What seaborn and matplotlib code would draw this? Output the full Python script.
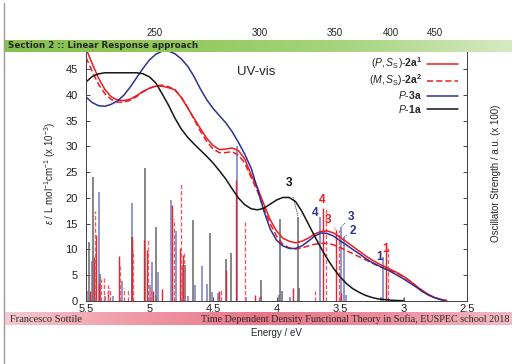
import numpy as np
import pandas as pd
import matplotlib
matplotlib.use("Agg")
import matplotlib.pyplot as plt
from matplotlib.colors import LinearSegmentedColormap
from matplotlib.lines import Line2D
from matplotlib.ticker import FuncFormatter
import seaborn as sns

# -------------------------------
# Absorption curves (energy in eV, epsilon x 10^-3)
# -------------------------------
e_2a1 = [5.50, 5.45, 5.40, 5.35, 5.30, 5.25, 5.20, 5.15, 5.10, 5.05, 5.00, 4.95, 4.90, 4.85,
         4.80, 4.75, 4.70, 4.65, 4.60, 4.55, 4.50, 4.45, 4.40, 4.35, 4.30, 4.25, 4.20, 4.15,
         4.10, 4.05, 4.00, 3.95, 3.90, 3.85, 3.80, 3.75, 3.70, 3.65, 3.60, 3.55, 3.50, 3.45,
         3.40, 3.35, 3.30, 3.25, 3.20, 3.15, 3.10, 3.05, 3.00, 2.95, 2.90, 2.85, 2.80, 2.75,
         2.70, 2.66]
eps_2a1 = [49.0, 46.0, 43.2, 41.0, 39.6, 39.0, 38.9, 39.2, 39.9, 40.7, 41.3, 41.7, 41.7, 41.4,
           41.0, 39.5, 37.5, 35.5, 33.5, 31.6, 30.2, 29.4, 29.5, 29.7, 29.2, 27.6, 24.5, 22.0,
           18.8, 15.8, 13.6, 12.2, 11.6, 11.3, 11.6, 12.2, 13.0, 13.5, 13.6, 13.2, 12.4, 11.5,
           10.6, 9.7, 8.8, 8.0, 7.3, 6.7, 6.1, 5.5, 4.8, 3.9, 2.9, 2.0, 1.2, 0.6,
           0.25, 0.1]

e_2a2 = e_2a1
eps_2a2 = [47.3, 44.5, 42.0, 40.2, 39.1, 38.6, 38.6, 39.0, 39.7, 40.6, 41.3, 41.8, 41.9, 41.6,
           41.0, 39.6, 37.6, 35.3, 33.0, 31.0, 29.5, 28.8, 28.8, 29.0, 28.3, 26.8, 24.0, 21.3,
           18.0, 15.0, 12.6, 11.0, 10.3, 10.1, 10.3, 10.7, 11.0, 11.2, 11.2, 10.9, 10.4, 9.8,
           9.2, 8.6, 8.0, 7.4, 6.8, 6.3, 5.9, 5.4, 4.7, 3.9, 2.9, 2.0, 1.2, 0.6,
           0.25, 0.1]

e_3a = [5.50, 5.45, 5.40, 5.35, 5.30, 5.25, 5.20, 5.15, 5.10, 5.05, 5.00, 4.95, 4.90, 4.85,
        4.80, 4.75, 4.70, 4.65, 4.60, 4.55, 4.50, 4.45, 4.40, 4.35, 4.30, 4.25, 4.20, 4.15,
        4.10, 4.05, 4.00, 3.95, 3.90, 3.85, 3.80, 3.75, 3.70, 3.65, 3.60, 3.55, 3.50, 3.45,
        3.40, 3.35, 3.30, 3.25, 3.20, 3.15, 3.10, 3.05, 3.00, 2.95, 2.90, 2.85, 2.80, 2.75,
        2.70, 2.68]
eps_3a = [39.6, 38.5, 37.9, 37.8, 38.2, 38.9, 40.0, 41.6, 43.4, 45.2, 46.8, 47.9, 48.5, 48.5,
          48.0, 47.0, 45.6, 43.6, 41.2, 39.1, 37.4, 36.0, 34.6, 32.9, 30.8, 28.5, 25.8, 21.8,
          17.5, 14.0, 11.8, 10.7, 10.2, 10.2, 10.7, 11.6, 12.6, 13.2, 13.1, 12.6, 11.7, 10.9,
          10.0, 9.2, 8.3, 7.5, 6.9, 6.3, 5.7, 5.0, 4.3, 3.5, 2.7, 1.8, 1.1, 0.6,
          0.25, 0.1]

e_1a = [5.50, 5.45, 5.40, 5.35, 5.30, 5.25, 5.20, 5.15, 5.10, 5.05, 5.00, 4.95, 4.90, 4.85,
        4.80, 4.75, 4.70, 4.65, 4.60, 4.55, 4.50, 4.45, 4.40, 4.35, 4.30, 4.25, 4.20, 4.15,
        4.10, 4.05, 4.00, 3.95, 3.90, 3.85, 3.80, 3.75, 3.70, 3.65, 3.60, 3.55, 3.50, 3.45,
        3.40, 3.35, 3.30, 3.25, 3.20, 3.10, 3.00]
eps_1a = [42.5, 43.6, 44.1, 44.3, 44.3, 44.3, 44.3, 44.3, 44.3, 44.1, 43.5, 42.3, 40.2, 38.0,
          35.5, 33.4, 31.8, 30.5, 29.3, 28.1, 26.8, 25.3, 23.7, 21.8, 20.0, 18.7, 17.9, 17.7,
          18.0, 18.8, 19.6, 20.1, 20.1, 19.3, 17.4, 15.0, 12.6, 10.3, 8.2, 6.3, 4.7, 3.4,
          2.4, 1.7, 1.1, 0.7, 0.4, 0.15, 0.05]

# -------------------------------
# Oscillator strength sticks (energy, height on the same scale)
# -------------------------------
stick_e_2a1 = [5.47, 5.44, 5.42, 5.40, 5.33, 5.24, 5.14, 5.04, 5.02, 4.97, 4.90, 4.82, 4.76,
               4.74, 4.45, 4.40, 4.32, 4.17, 3.87, 3.63, 3.53, 3.49, 3.14]
stick_h_2a1 = [2.0, 8.6, 12.8, 3.5, 2.2, 8.7, 12.5, 11.8, 9.9, 2.0, 2.4, 18.6, 10.2,
               9.0, 2.0, 6.0, 23.5, 1.2, 2.5, 18.0, 13.8, 1.5, 10.0]

stick_e_2a2 = [5.43, 5.38, 5.36, 5.33, 5.31, 5.23, 5.20, 5.17, 5.13, 5.01, 4.99, 4.81, 4.75,
               4.73, 4.44, 4.25, 4.14, 3.70, 3.61, 3.51, 3.12]
stick_h_2a2 = [17.4, 4.2, 4.4, 3.1, 2.5, 6.7, 2.5, 2.2, 9.9, 11.8, 2.5, 16.0, 23.0,
               9.3, 2.2, 15.4, 1.0, 2.0, 18.0, 13.8, 10.3]

stick_e_3a = [5.49, 5.45, 5.40, 5.35, 5.29, 5.22, 5.14, 5.00, 4.98, 4.95, 4.93, 4.83, 4.79,
              4.70, 4.64, 4.59, 4.55, 4.51, 4.46, 4.31, 4.24, 4.12, 3.98, 3.89, 3.66, 3.49,
              3.47, 3.45, 3.18, 3.16]
stick_h_3a = [2.0, 7.8, 21.2, 1.0, 1.0, 3.8, 19.0, 3.1, 7.6, 1.0, 5.7, 19.7, 13.5,
              1.0, 3.1, 6.8, 3.3, 1.8, 1.5, 30.0, 0.8, 0.9, 1.2, 0.8, 16.3, 14.4,
              12.4, 1.2, 0.8, 8.5]

stick_e_1a = [5.48, 5.445, 5.39, 5.14, 5.035, 4.95, 4.74, 4.72, 4.66, 4.52, 4.40, 4.36,
              4.12, 3.975, 3.96, 3.83, 3.82, 3.00]
stick_h_1a = [11.4, 24.0, 5.2, 12.5, 25.8, 14.4, 6.9, 6.9, 15.7, 13.2, 8.1, 9.3,
              4.0, 15.9, 2.0, 16.4, 2.5, 0.5]

# labelled transitions: (text, colour key, stick energy, stick height, label energy, label height, leader)
stick_labels = [
    ("3", "1a", 3.83, 16.4, 3.90, 23.0, True),
    ("4", "3a", 3.66, 16.3, 3.695, 17.1, False),
    ("4", "2a1", 3.63, 18.0, 3.64, 19.6, False),
    ("3", "2a1", 3.53, 13.8, 3.595, 15.7, True),
    ("3", "3a", 3.49, 14.4, 3.41, 16.3, True),
    ("2", "3a", 3.47, 12.4, 3.40, 13.6, True),
    ("1", "3a", 3.16, 8.5, 3.19, 8.6, False),
    ("1", "2a1", 3.14, 10.0, 3.145, 10.0, False),
]

x_ticks = [5.5, 5.0, 4.5, 4.0, 3.5, 3.0, 2.5]
y_ticks = [0, 5, 10, 15, 20, 25, 30, 35, 40, 45]
nm_ticks = [250, 300, 350, 400, 450]

colors = {"2a1": "#ec1c24", "2a2": "#ec1c24", "3a": "#2e3192", "1a": "#151515"}
labels = {
    "2a1": r"$(\mathit{P},\mathit{S}_{\mathrm{S}})$-$\mathbf{2a^{1}}$",
    "2a2": r"$(\mathit{M},\mathit{S}_{\mathrm{S}})$-$\mathbf{2a^{2}}$",
    "3a": r"$\mathit{P}$-$\mathbf{3a}$",
    "1a": r"$\mathit{P}$-$\mathbf{1a}$",
}

# -------------------------------
# Style
# -------------------------------
sns.set_style("ticks")
plt.rcParams["font.family"] = ["Liberation Sans", "DejaVu Sans"]
plt.rcParams["mathtext.fontset"] = "custom"
plt.rcParams["mathtext.rm"] = "Liberation Sans"
plt.rcParams["mathtext.it"] = "Liberation Sans:italic"
plt.rcParams["mathtext.bf"] = "Liberation Sans:bold"

W, H = 512, 364
fig = plt.figure(figsize=(W / 100, H / 100), dpi=100)
fig.patch.set_facecolor("white")

ax = fig.add_axes([86 / W, 1 - 301 / H, 381 / W, 255 / H])

# sticks
ax.vlines(stick_e_3a, 0, stick_h_3a, colors="#8184c8", linewidth=1.2, zorder=1)
ax.vlines(stick_e_1a, 0, stick_h_1a, colors="#666666", linewidth=1.1, zorder=1)
ax.vlines(stick_e_2a1, 0, stick_h_2a1, colors="#e8222c", linewidth=1.0, zorder=1)
ax.vlines(stick_e_2a2, 0, stick_h_2a2, colors="#f2596b", linewidth=1.0,
          linestyles=(0, (3, 1.5)), zorder=1)

# curves
curves = pd.concat([
    pd.DataFrame({"E": e_2a1, "eps": eps_2a1, "mol": "2a1"}),
    pd.DataFrame({"E": e_2a2, "eps": eps_2a2, "mol": "2a2"}),
    pd.DataFrame({"E": e_3a, "eps": eps_3a, "mol": "3a"}),
    pd.DataFrame({"E": e_1a, "eps": eps_1a, "mol": "1a"}),
])
for mol in ["2a1", "2a2", "3a", "1a"]:
    d = curves[curves["mol"] == mol]
    sns.lineplot(data=d, x="E", y="eps", ax=ax, color=colors[mol], linewidth=1.1,
                 label=labels[mol], sort=False, zorder=3,
                 linestyle="-" if mol != "2a2" else (0, (4, 2)))

# stick labels
for txt, key, se, sh, le, lh, leader in stick_labels:
    c = {"1a": "#151515", "3a": "#2e3192", "2a1": "#ec1c24"}[key]
    if leader:
        ax.annotate(txt, xy=(se, sh), xytext=(le, lh), color=c, fontsize=8.5,
                    fontweight="bold", ha="center", va="center", zorder=5,
                    arrowprops=dict(arrowstyle="-", color=c, lw=0.5, ls=":",
                                    shrinkA=4, shrinkB=0))
    else:
        ax.text(le, lh, txt, color=c, fontsize=8.5, fontweight="bold",
                ha="center", va="center", zorder=5)

ax.text(4.16, 44.5, "UV-vis", fontsize=9.5, ha="center", va="center")

ax.set_xlim(5.5, 2.5)
ax.set_ylim(0, 49.5)
ax.set_xticks(x_ticks)
ax.xaxis.set_major_formatter(FuncFormatter(lambda v, p: "%g" % v))
ax.set_yticks(y_ticks)
ax.tick_params(direction="in", length=3, width=0.6, labelsize=8, colors="#222222")
ax.tick_params(axis="x", pad=2)
ax.tick_params(axis="y", pad=6)
ax.set_xlabel("Energy / eV", fontsize=7, labelpad=10)
ax.set_ylabel(r"$\varepsilon$ / L mol$^{-1}$cm$^{-1}$ (x 10$^{-3}$)", fontsize=7, labelpad=5)
for s in ax.spines.values():
    s.set_linewidth(0.7)
    s.set_color("#444444")

leg = ax.legend(loc="upper right", markerfirst=False, frameon=False, fontsize=7.5,
                handlelength=2.9, labelspacing=0.12, borderaxespad=0.5, handletextpad=0.5)
for t in leg.get_texts():
    t.set_ha("right")

axr = ax.twinx()
axr.set_ylim(ax.get_ylim())
axr.set_yticks(y_ticks)
axr.set_yticklabels([])
axr.tick_params(direction="in", length=3, width=0.6)
axr.set_ylabel("Oscillator Strength / a.u. (x 100)", fontsize=7, labelpad=14)
for s in axr.spines.values():
    s.set_linewidth(0.7)
    s.set_color("#444444")

top = ax.secondary_xaxis("top", functions=(lambda e: 1239.84 / np.maximum(e, 1e-6),
                                           lambda w: 1239.84 / np.maximum(w, 1e-6)))
top.set_xticks(nm_ticks)
top.tick_params(direction="in", length=3, labelsize=7, pad=6)

# -------------------------------
# Slide decoration
# -------------------------------
fig.add_artist(Line2D([4 / W, 4 / W], [0, 1 - 3 / H], transform=fig.transFigure,
                      color="#9a9a9a", linewidth=1))

green = LinearSegmentedColormap.from_list("g", ["#86c250", "#92c95c", "#a7d47e", "#d6eac2"])
gax = fig.add_axes([5 / W, 1 - 52 / H, 507 / W, 12 / H])
gax.imshow(np.linspace(0, 1, 256)[None, :], aspect="auto", cmap=green, extent=[0, 1, 0, 1])
gax.set_axis_off()
gax.set_zorder(10)
gax.text(0.006, 0.5, "Section 2 :: Linear Response approach", fontsize=6.3,
         fontweight="bold", family="DejaVu Sans", va="center", ha="left",
         transform=gax.transAxes)

pink = LinearSegmentedColormap.from_list("p", ["#f6cad0", "#f09aa7", "#e8768a", "#ec8d9d", "#f3bcc5"])
pax = fig.add_axes([5 / W, 1 - 325 / H, 507 / W, 13 / H])
pax.imshow(np.linspace(0, 1, 256)[None, :], aspect="auto", cmap=pink, extent=[0, 1, 0, 1])
pax.set_axis_off()
pax.set_zorder(10)
pax.text(0.01, 0.45, "Francesco Sottile", fontsize=7.5, family="Liberation Serif",
         color="#2a2a2a", va="center", ha="left", transform=pax.transAxes)
pax.text(0.995, 0.45, "Time Dependent Density Functional Theory in Sofia, EUSPEC school 2018",
         fontsize=7.3, family="Liberation Serif", color="#2a2a2a", va="center", ha="right",
         transform=pax.transAxes)

fig.savefig("out.png", dpi=100)
